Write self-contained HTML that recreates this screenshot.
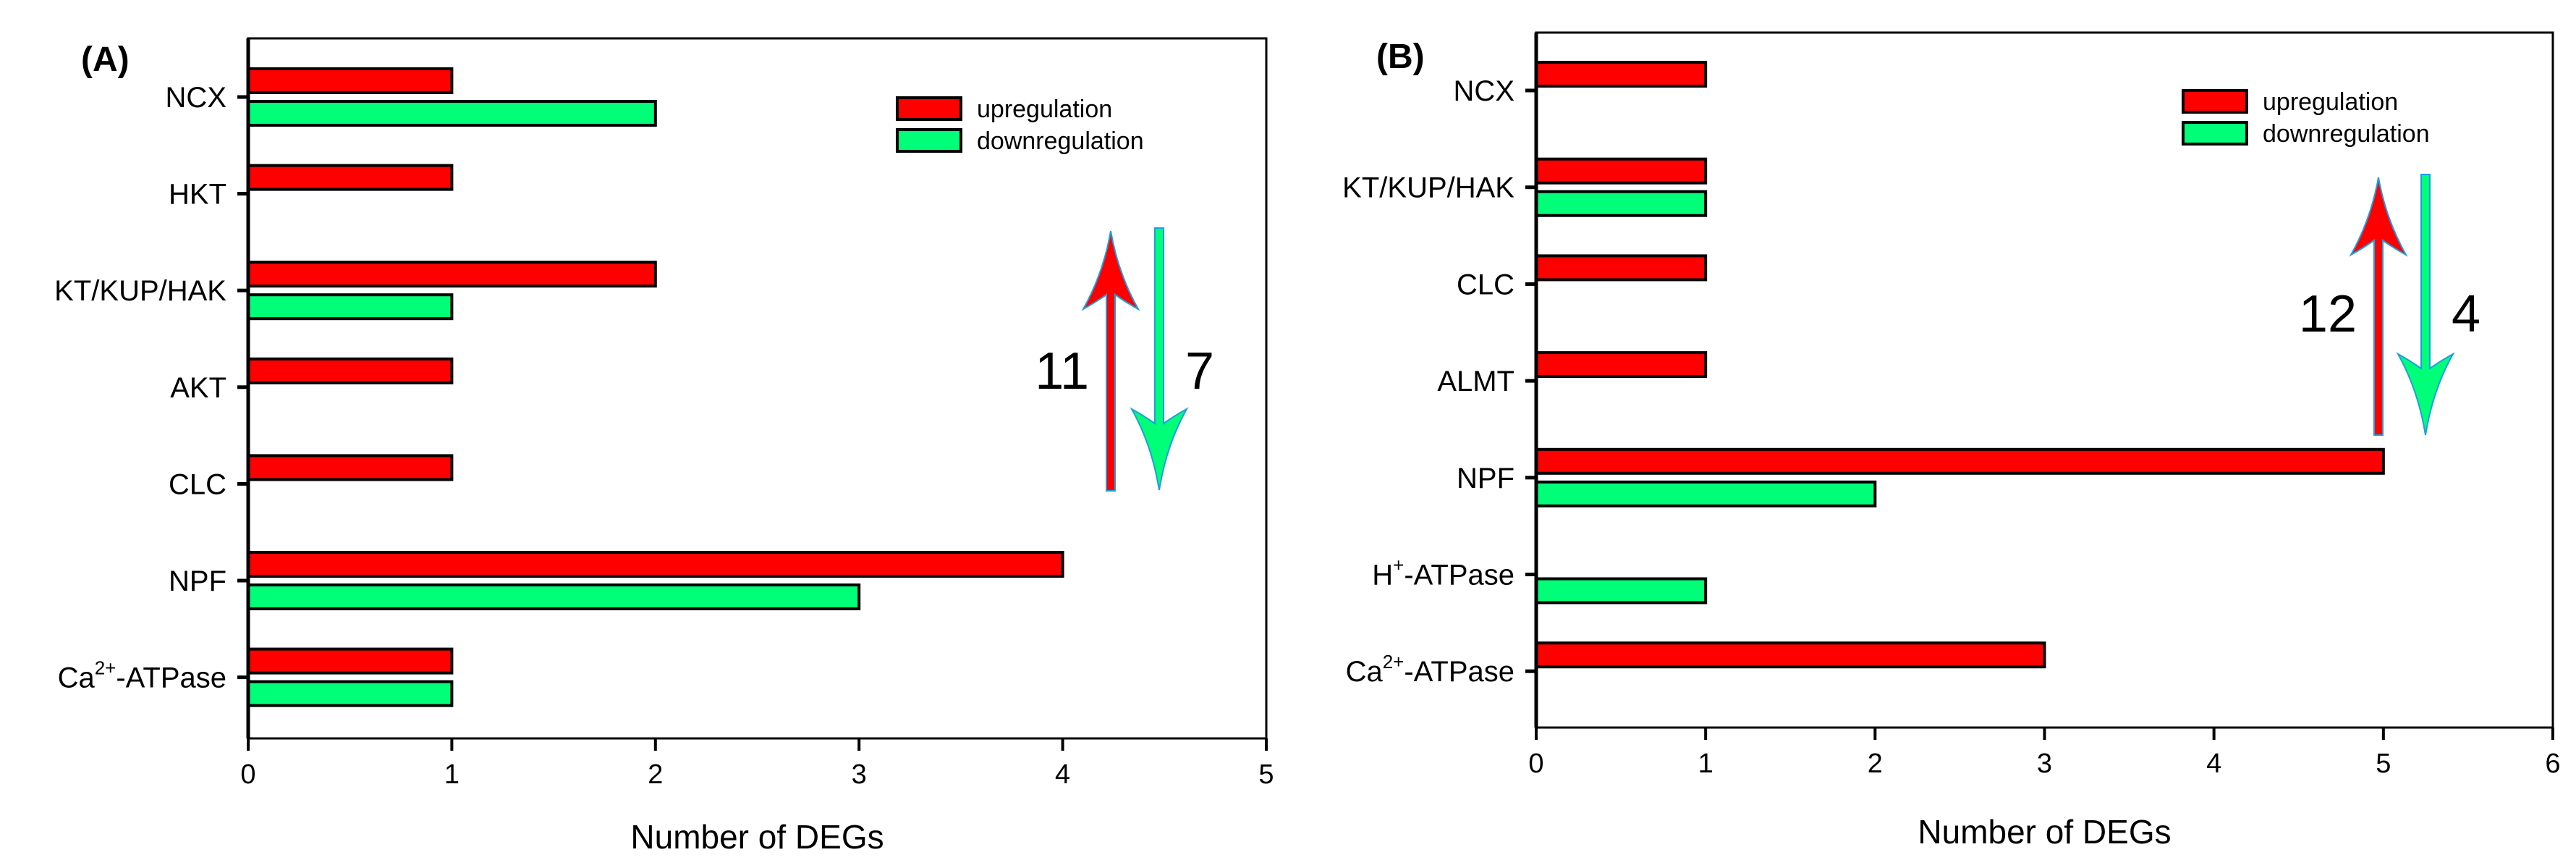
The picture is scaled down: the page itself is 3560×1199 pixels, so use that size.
<!DOCTYPE html>
<html><head><meta charset="utf-8">
<style>
html,body{margin:0;padding:0;background:#fff;}
svg{display:block;}
text{font-family:"Liberation Sans Narrow","Liberation Sans",sans-serif;fill:#000;}
</style></head>
<body>
<svg id="fig" width="3560" height="1199" viewBox="0 0 3560 1199" xmlns="http://www.w3.org/2000/svg"></svg>
<script>
const catsA = ["NCX","HKT","KT/KUP/HAK","AKT","CLC","NPF","Ca<tspan dy='-18' font-size='26'>2+</tspan><tspan dy='18'>-ATPase</tspan>"];
const upA = [1,1,2,1,1,4,1];
const downA = [2,0,1,0,0,3,1];
const ticksA = [0,1,2,3,4,5];
const catsB = ["NCX","KT/KUP/HAK","CLC","ALMT","NPF","H<tspan dy='-18' font-size='26'>+</tspan><tspan dy='18'>-ATPase</tspan>","Ca<tspan dy='-18' font-size='26'>2+</tspan><tspan dy='18'>-ATPase</tspan>"];
const upB = [1,1,1,1,5,0,3];
const downB = [0,1,0,0,2,1,0];
const ticksB = [0,1,2,3,4,5,6];
const totalsA = [11,7];
const totalsB = [12,4];

const NS="http://www.w3.org/2000/svg";
const svg=document.getElementById('fig');
function mk(tag,attrs,parent){const e=document.createElementNS(NS,tag);for(const k in attrs)e.setAttribute(k,attrs[k]);(parent||svg).appendChild(e);return e;}

function panel(cfg){
  const g=mk('g',{});
  
  
  const x=v=>cfg.x0+(v-cfg.tmin)*(cfg.x1-cfg.x0)/(cfg.tmax-cfg.tmin);
  const yc=i=>cfg.c0+i*cfg.step;
  // bars
  cfg.cats.forEach((c,i)=>{
    if(cfg.up[i]>0){
      const r=mk('rect',{x:x(0),y:yc(i)-39,width:x(cfg.up[i])-x(0),height:33,fill:'#ff0000',stroke:'#000','stroke-width':4},g);
      
      
    }
    if(cfg.down[i]>0){
      const r=mk('rect',{x:x(0),y:yc(i)+6,width:x(cfg.down[i])-x(0),height:33,fill:'#00ff78',stroke:'#000','stroke-width':4},g);
      
      
    }
    const t=mk('line',{x1:cfg.x0-15,x2:cfg.x0,y1:yc(i),y2:yc(i),stroke:'#000','stroke-width':5},g);
    
    
    const l=mk('text',{x:cfg.x0-30,y:yc(i)+14,'text-anchor':'end','font-size':40},g);
    l.innerHTML=c;
    
    
  });
  // frame
  const f=mk('rect',{x:cfg.x0,y:cfg.top,width:cfg.x1-cfg.x0,height:cfg.bot-cfg.top,fill:'none',stroke:'#000','stroke-width':3},g);
  
  
  mk('line',{x1:cfg.x0,x2:cfg.x0,y1:cfg.top,y2:cfg.bot,stroke:'#000','stroke-width':5},g);
  cfg.ticks.forEach(v=>{
    const t=mk('line',{x1:x(v),x2:x(v),y1:cfg.bot,y2:cfg.bot+17,stroke:'#000','stroke-width':4},g);
    
    
    const l=mk('text',{x:x(v),y:cfg.bot+62,'text-anchor':'middle','font-size':38},g);
    l.textContent=v;
    
    
  });
  const ti=mk('text',{x:(cfg.x0+cfg.x1)/2,y:cfg.titleY,'text-anchor':'middle','font-size':46},g);
  ti.textContent='Number of DEGs';
  
  
  const pl=mk('text',{x:cfg.labX,y:cfg.labY,'font-size':48,'font-weight':'bold','font-family':'Liberation Sans, sans-serif'},g);
  pl.textContent=cfg.label;
  
  
  // legend
  const lg=mk('g',{},g);
  
  
  [['upregulation','#ff0000'],['downregulation','#00ff78']].forEach((e,k)=>{
    const yy=cfg.legY+k*44;
    mk('rect',{x:cfg.legX,y:yy,width:88,height:30,fill:e[1],stroke:'#000','stroke-width':4},lg);
    const tt=mk('text',{x:cfg.legX+110,y:yy+27,'font-size':34},lg);
    tt.textContent=e[0];
    
    
  });
  // arrows
  const ra=cfg.ra, ga=cfg.ga;
  const up=mk('path',{d:`M${ra.x-6},${ra.bot} L${ra.x-6},${ra.hb-20} Q${ra.x-20},${ra.hb-10} ${ra.x-38},${ra.hb} Q${ra.x-10},${ra.hb-50} ${ra.x},${ra.tip} Q${ra.x+10},${ra.hb-50} ${ra.x+38},${ra.hb} Q${ra.x+20},${ra.hb-10} ${ra.x+6},${ra.hb-20} L${ra.x+6},${ra.bot} Z`,fill:'#ff0000',stroke:'#1aa0e0','stroke-width':2},g);
  
  
  const dn=mk('path',{d:`M${ga.x-6},${ga.top} L${ga.x-6},${ga.ht+20} Q${ga.x-20},${ga.ht+10} ${ga.x-38},${ga.ht} Q${ga.x-10},${ga.ht+50} ${ga.x},${ga.tip} Q${ga.x+10},${ga.ht+50} ${ga.x+38},${ga.ht} Q${ga.x+20},${ga.ht+10} ${ga.x+6},${ga.ht+20} L${ga.x+6},${ga.top} Z`,fill:'#00ff78',stroke:'#1aa0e0','stroke-width':2},g);
  
  
  const n1=mk('text',{x:ra.x-30,y:cfg.numY,'text-anchor':'end','font-size':72},g);
  n1.textContent=cfg.totals[0];
  
  
  const n2=mk('text',{x:ga.x+36,y:cfg.numY,'font-size':72},g);
  n2.textContent=cfg.totals[1];
  
  
}

panel({name:'panel-a',cats:catsA,up:upA,down:downA,ticks:ticksA,tmin:0,tmax:5,totals:totalsA,
  x0:343,x1:1750,top:53,bot:1020,c0:134,step:133.6,titleY:1172,label:'(A)',labX:112,labY:98,
  legX:1240,legY:135,ra:{x:1535,tip:319,hb:427,bot:678},ga:{x:1602,top:315,ht:565,tip:677},numY:537});
panel({name:'panel-b',cats:catsB,up:upB,down:downB,ticks:ticksB,tmin:0,tmax:6,totals:totalsB,
  x0:2123,x1:3528,top:45,bot:1005,c0:125,step:133.7,titleY:1165,label:'(B)',labX:1902,labY:94,
  legX:3017,legY:125,ra:{x:3287,tip:245,hb:352,bot:601},ga:{x:3352,top:241,ht:489,tip:601},numY:458});
</script>
</body></html>
